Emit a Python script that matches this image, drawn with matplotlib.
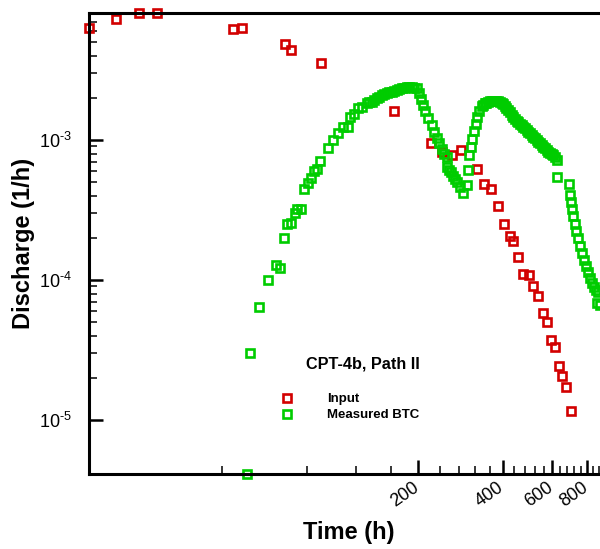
import matplotlib
matplotlib.use("Agg")
import matplotlib.pyplot as plt
from matplotlib.ticker import NullFormatter
from matplotlib.transforms import ScaledTranslation

plt.rcParams['font.family'] = ['Liberation Sans', 'DejaVu Sans']
plt.rcParams['mathtext.fontset'] = 'custom'
plt.rcParams['mathtext.rm'] = 'Liberation Sans'
plt.rcParams['mathtext.it'] = 'Liberation Sans:italic'
plt.rcParams['mathtext.bf'] = 'Liberation Sans:bold'

# injected tracer pulse (time in h, discharge in 1/h)
input_t = [13.4, 16.7, 20.2, 23.4, 43.7, 46.9, 66.9, 70.1, 90.4, 164,
           222, 243, 264, 284, 323, 344, 363, 384, 405, 425,
           434, 454, 474, 495, 514, 533, 556, 574, 595, 615,
           635, 653, 671, 699]
input_q = [6.28e-3, 7.31e-3, 8.07e-3, 8.07e-3, 6.18e-3, 6.31e-3, 4.83e-3, 4.40e-3, 3.56e-3, 1.60e-3,
           9.47e-4, 8.21e-4, 7.81e-4, 8.48e-4, 6.18e-4, 4.88e-4, 4.47e-4, 3.40e-4, 2.50e-4, 2.07e-4,
           1.91e-4, 1.47e-4, 1.10e-4, 1.08e-4, 9.0e-5, 7.65e-5, 5.78e-5, 5.01e-5, 3.73e-5, 3.34e-5,
           2.43e-5, 2.07e-5, 1.71e-5, 1.15e-5]

# measured breakthrough curve
btc_t = [49.1, 50.2, 54.2, 58.3, 62.4, 64.2, 66.5, 68.3, 70.5, 72.8,
         74.1, 76.1, 78.4, 80.7, 82.9, 84.9, 87.3, 89.2, 95.0, 99.5,
         103.2, 107.5, 112.0, 114.1, 117.9, 122.2, 126.3, 130.9, 133.6, 136.4,
         139.2, 142.1, 145.1, 148.1, 151.2, 154.3, 157.5, 160.7, 164.1, 167.5,
         171.0, 174.5, 178.1, 181.8, 185.6, 189.5, 193.4, 197.4, 202.0, 205.3,
         208.4, 211.3, 217.1, 223.3, 227.5, 232.6, 237.0, 242.4, 247.0, 252.5,
         254.2, 257.3, 261.6, 266.6, 270.3, 274.8, 281.6, 289.4, 297.6, 300.1,
         304.0, 308.3, 311.6, 316.0, 320.4, 324.7, 330.0, 337.5, 341.7, 345.9,
         350.2, 354.5, 359.9, 365.4, 370.4, 375.4, 380.1, 384.8, 390.7, 396.7,
         402.1, 407.6, 412.6, 417.7, 424.1, 430.6, 436.5, 442.5, 448.5, 454.6,
         461.0, 467.5, 473.9, 480.3, 486.9, 493.5, 500.4, 507.5, 514.4, 521.4,
         528.6, 535.8, 543.4, 551.0, 558.5, 566.1, 573.8, 581.6, 589.8, 598.1,
         606.3, 614.6, 624.7, 623.3, 691.1, 698.0, 703.8, 709.5, 715.4, 724.2,
         733.2, 742.2, 754.6, 767.1, 779.7, 792.8, 805.9, 819.2, 832.9, 846.6,
         860.6, 875.0, 865.5, 889.3]
btc_q = [4.1e-6, 3.03e-5, 6.41e-5, 1.0e-4, 1.28e-4, 1.21e-4, 2.01e-4, 2.50e-4, 2.55e-4, 3.01e-4,
         3.19e-4, 3.22e-4, 4.47e-4, 4.91e-4, 5.38e-4, 6.04e-4, 6.18e-4, 7.08e-4, 8.72e-4, 1.0e-3,
         1.127e-3, 1.245e-3, 1.245e-3, 1.467e-3, 1.526e-3, 1.684e-3, 1.730e-3, 1.829e-3, 1.853e-3, 1.878e-3,
         1.931e-3, 1.986e-3, 2.038e-3, 2.097e-3, 2.130e-3, 2.156e-3, 2.183e-3, 2.213e-3, 2.246e-3, 2.276e-3,
         2.313e-3, 2.340e-3, 2.360e-3, 2.379e-3, 2.379e-3, 2.379e-3, 2.368e-3, 2.340e-3, 2.167e-3, 1.963e-3,
         1.778e-3, 1.611e-3, 1.436e-3, 1.280e-3, 1.141e-3, 1.033e-3, 9.52e-4, 8.63e-4, 7.94e-4, 7.56e-4,
         6.41e-4, 6.10e-4, 5.91e-4, 5.53e-4, 5.26e-4, 5.01e-4, 4.64e-4, 4.20e-4, 4.77e-4, 6.10e-4,
         7.81e-4, 8.91e-4, 1.016e-3, 1.159e-3, 1.301e-3, 1.460e-3, 1.611e-3, 1.750e-3, 1.79e-3, 1.823e-3,
         1.85e-3, 1.868e-3, 1.885e-3, 1.899e-3, 1.90e-3, 1.899e-3, 1.893e-3, 1.884e-3, 1.862e-3, 1.838e-3,
         1.795e-3, 1.750e-3, 1.692e-3, 1.637e-3, 1.572e-3, 1.509e-3, 1.46e-3, 1.413e-3, 1.372e-3, 1.334e-3,
         1.306e-3, 1.280e-3, 1.243e-3, 1.208e-3, 1.176e-3, 1.146e-3, 1.115e-3, 1.086e-3, 1.055e-3, 1.025e-3,
         9.98e-4, 9.72e-4, 9.46e-4, 9.21e-4, 8.95e-4, 8.70e-4, 8.47e-4, 8.25e-4, 8.09e-4, 7.94e-4,
         7.75e-4, 7.56e-4, 7.20e-4, 5.42e-4, 4.85e-4, 4.05e-4, 3.61e-4, 3.21e-4, 2.86e-4, 2.51e-4,
         2.24e-4, 2.0e-4, 1.75e-4, 1.56e-4, 1.39e-4, 1.26e-4, 1.14e-4, 1.03e-4, 9.52e-5, 8.91e-5,
         8.48e-5, 8.21e-5, 6.82e-5, 6.63e-5]

x_major = [200, 400, 600, 800]
x_minor = [40, 80, 120, 160, 240, 280, 320, 360, 440, 480, 520, 560,
           640, 680, 720, 760, 840, 880, 920, 960]
y_major = [1e-5, 1e-4, 1e-3]
y_minor = [k * 10.0 ** n for n in (-5, -4, -3) for k in range(2, 10)
           if k * 10.0 ** n < 8.1e-3]
y_labels = [r'$\mathdefault{10^{\text{-}5}}$', r'$\mathdefault{10^{\text{-}4}}$',
            r'$\mathdefault{10^{\text{-}3}}$']

red = '#d20000'
green = '#00cc00'

fig = plt.figure(figsize=(6, 5.49), dpi=100)
ax = fig.add_axes([89 / 600, 75 / 549, 525.2 / 600, 461.3 / 549])
ax.set_xscale('log')
ax.set_yscale('log')

l_in, = ax.plot(input_t, input_q, ls='none', marker='s', ms=5.5, mfc='none',
                mec=red, mew=1.9, clip_on=False)
l_btc, = ax.plot(btc_t, btc_q, ls='none', marker='s', ms=5.5, mfc='none',
                 mec=green, mew=1.9, clip_on=False)

for s in ax.spines.values():
    s.set_linewidth(2.2)

ax.set_xticks(x_major)
ax.set_xticklabels([str(v) for v in x_major], rotation=35, ha='right')
ax.set_xticks(x_minor, minor=True)
ax.set_yticks(y_major)
ax.set_yticklabels(y_labels)
ax.set_yticks(y_minor, minor=True)
ax.xaxis.set_minor_formatter(NullFormatter())
ax.yaxis.set_minor_formatter(NullFormatter())
ax.set_xlim(13.4, 1000)
ax.set_ylim(4.11e-6, 8.11e-3)

ax.tick_params(which='both', direction='in', top=False, right=False, labelsize=13)
ax.tick_params(which='major', length=10, width=1.8)
ax.tick_params(which='minor', length=5.5, width=1.1)
ax.tick_params(axis='x', which='major', pad=4)
ax.tick_params(axis='y', which='major', pad=12)

# nudge the slanted time labels so their upper end sits at the tick
nudge = ScaledTranslation(4 / 100, 1 / 100, fig.dpi_scale_trans)
for lab in ax.get_xticklabels():
    lab.set_transform(lab.get_transform() + nudge)

fig.text(349 / 600, 1 - 539.5 / 549, 'Time (h)', fontsize=17, fontweight='bold',
         ha='center', va='baseline')
fig.text(24 / 600, 1 - 243.5 / 549, 'Discharge (1/h)', fontsize=17, fontweight='bold',
         ha='center', va='center', rotation=90)

fig.text(306 / 600, 1 - 364 / 549, 'CPT-4b, Path II', fontsize=11.7, fontweight='bold',
         ha='left', va='center')
ax.legend([l_in, l_btc], ['Input', 'Measured BTC'], loc='upper left',
          bbox_to_anchor=(280.7 / 600, 1 - 393 / 549), bbox_transform=fig.transFigure,
          frameon=False, borderpad=0, borderaxespad=0, handlelength=1,
          handletextpad=2.5, labelspacing=0.3, numpoints=1,
          prop={'weight': 'bold', 'size': 9.5})

fig.savefig('out.png', dpi=100)
